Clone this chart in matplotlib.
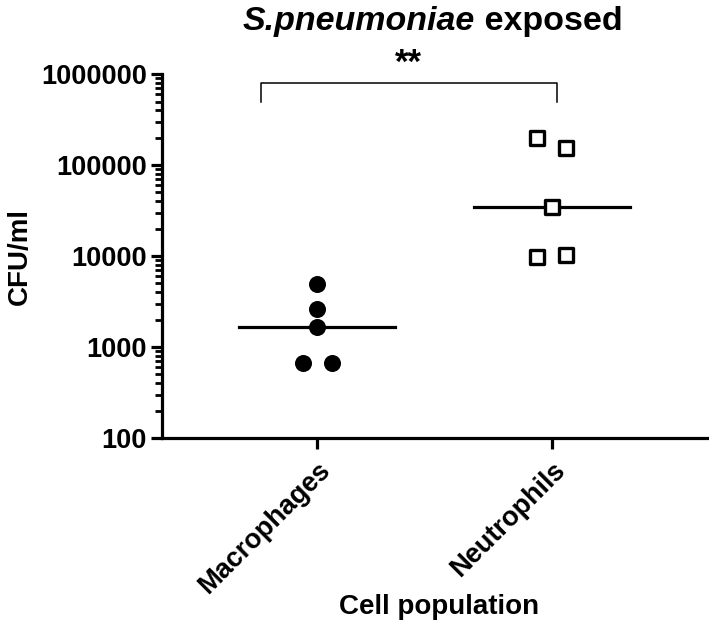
import matplotlib
matplotlib.use("Agg")
import matplotlib.pyplot as plt
from matplotlib.ticker import LogLocator, NullFormatter, FixedLocator
import numpy as np

plt.rcParams['font.family'] = ['Liberation Sans', 'DejaVu Sans']
plt.rcParams['font.weight'] = 'bold'

categories = ["Macrophages", "Neutrophils"]
macrophages = [4900, 2600, 1650, 660, 660]
neutrophils = [200000, 153000, 35000, 9700, 10200]
medians = [1650, 35000]
y_ticks = [100, 1000, 10000, 100000, 1000000]
y_ticklabels = ["100", "1000", "10000", "100000", "1000000"]
significance = "**"

# horizontal scatter offsets (layout)
mac_jitter = [0.0, 0.0, 0.0, -0.063, 0.063]
neu_jitter = [-0.064, 0.06, 0.0, -0.064, 0.06]

fig = plt.figure(figsize=(7.09, 6.23), dpi=100)
ax = fig.add_axes([0.2285, 0.297, 0.7715 + 0.01, 0.584])

xpos = np.arange(len(categories))
ax.scatter(xpos[0] + np.array(mac_jitter), macrophages, s=150, marker='o',
           color='black', zorder=3, linewidths=0)
ax.scatter(xpos[1] + np.array(neu_jitter), neutrophils, s=110, marker='s',
           facecolor='white', edgecolor='black', linewidths=2.4, zorder=3)
for i, m in enumerate(medians):
    ax.plot([xpos[i] - 0.333, xpos[i] + 0.333], [m, m], color='black', lw=2.3, zorder=2)

ax.set_yscale('log')
ax.set_ylim(100, 1000000)
ax.set_xlim(-0.662, 1.70)
ax.yaxis.set_major_locator(FixedLocator(y_ticks))
ax.set_yticklabels(y_ticklabels)
ax.yaxis.set_minor_locator(LogLocator(base=10, subs=np.arange(2, 10)))
ax.yaxis.set_minor_formatter(NullFormatter())
ax.set_xticks(xpos)
ax.set_xticklabels(categories, rotation=45, ha='right', va='top',
                   rotation_mode='anchor', fontsize=19.5, fontweight='bold')

for side in ['top', 'right']:
    ax.spines[side].set_visible(False)
for side in ['left', 'bottom']:
    ax.spines[side].set_linewidth(2.3)
ax.tick_params(axis='both', which='major', width=2.3, length=8, labelsize=19.5, pad=3)
ax.tick_params(axis='y', which='minor', width=2.0, length=5)
ax.tick_params(axis='x', which='major', pad=6)
for lab in ax.get_yticklabels():
    lab.set_fontweight('bold')

ax.set_ylabel("CFU/ml", fontsize=20, fontweight='bold', labelpad=6)
ax.set_xlabel("Cell population", fontsize=20, fontweight='bold', labelpad=-4)

# significance bracket
bx0, bx1 = -0.24, 1.02
by_top, by_bot = 790000, 500000
ax.plot([bx0, bx0, bx1, bx1], [by_bot, by_top, by_top, by_bot], color='black',
        lw=1.1, clip_on=False)
ax.text((bx0 + bx1) / 2, by_top * 1.1, significance, ha='center', va='bottom',
        fontsize=25, fontweight='bold', clip_on=False)

# title with italic species name
t1 = fig.text(0.5, 0.99, "S.pneumoniae", fontsize=24.5, fontweight='bold',
              fontstyle='italic', ha='left', va='top')
t2 = fig.text(0.5, 0.99, " exposed", fontsize=24.5, fontweight='bold',
              ha='left', va='top')
fig.canvas.draw()
r = fig.canvas.get_renderer()
w1 = t1.get_window_extent(r).width
w2 = t2.get_window_extent(r).width
W = fig.bbox.width
cx = 433.0
x0 = cx - (w1 + w2) / 2
t1.set_x(x0 / W)
t2.set_x((x0 + w1) / W)

fig.savefig("out.png", dpi=100)
